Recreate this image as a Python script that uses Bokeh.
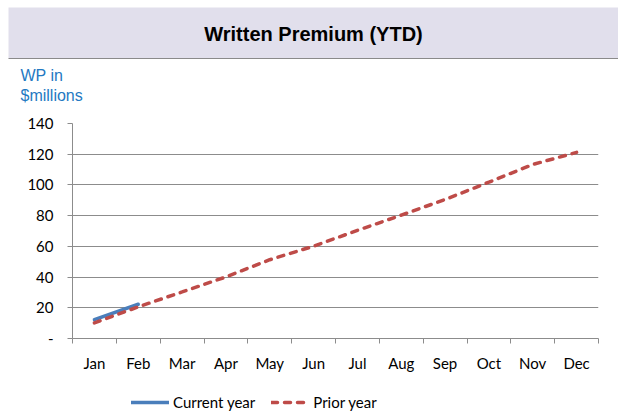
import numpy as np
from bokeh.plotting import figure
from bokeh.models import (Range1d, FixedTicker, Legend, LegendItem, BoxAnnotation)
from bokeh.layouts import column
from bokeh.embed import file_html
from bokeh.resources import INLINE
from bokeh.core.properties import value

# ---- data ----
months = ["Jan", "Feb", "Mar", "Apr", "May", "Jun", "Jul", "Aug", "Sep", "Oct", "Nov", "Dec"]
current_year = [12.3, 22.3]
prior_year = [10.2, 20.6, 30.3, 40.1, 51.3, 60.1, 70.4, 80.3, 90.5, 101.8, 113.3, 121.2]
y_ticks = [0, 20, 40, 60, 80, 100, 120, 140]
title_text = "Written Premium (YTD)"
y_label_lines = ["WP in", "$millions"]
series_names = ["Current year", "Prior year"]

W = 618
HEAD_H = 110
MAIN_H = 270
LEG_H = 36
GRID = "#8c8c8c"
FONT = "Lato"
BLUE = "#4A7EBB"
RED = "#BE4B48"
BAND = "#E1DFEC"


def bare(fig):
    fig.axis.visible = False
    fig.grid.visible = False
    return fig


# ---- header: title band + unit label (page pixel coordinates) ----
hdr = bare(figure(width=W, height=HEAD_H, output_backend="svg", toolbar_location=None,
                  x_range=Range1d(0, W), y_range=Range1d(HEAD_H, 0),
                  min_border=0, outline_line_color=None, frame_align=False))
hdr.add_layout(BoxAnnotation(left=8, right=W, top=7, bottom=58, fill_color=BAND, fill_alpha=1,
                             line_color=None, level="underlay"))
hdr.add_layout(BoxAnnotation(left=8, right=W, top=57.5, bottom=58.5, fill_color="#8a8a8a",
                             fill_alpha=1, line_color=None))
hdr.text(x=[313], y=[33], text=[title_text], text_align="center", text_baseline="middle",
         text_font=value("Liberation Sans"), text_font_style="bold", text_font_size="20px",
         text_color="#000000")
hdr.text(x=[20, 20], y=[75, 95], text=y_label_lines, text_align="left", text_baseline="middle",
         text_font=value("Liberation Sans"), text_font_size="16px", text_color="#2479C2")

# ---- main chart ----
xs_prior = [i + 0.5 for i in range(len(prior_year))]
xs_cur = [i + 0.5 for i in range(len(current_year))]

p = figure(width=W, height=MAIN_H, output_backend="svg", toolbar_location=None,
           x_range=Range1d(0, len(months)), y_range=Range1d(0, 140),
           min_border_left=72, min_border_right=20, min_border_top=13, min_border_bottom=42,
           outline_line_color=None, frame_align=False)

r_cur = p.line(xs_cur, current_year, line_color=BLUE, line_width=3.5, line_cap="round")
r_prior = p.line(xs_prior, prior_year, line_color=RED, line_width=3.5,
                 line_dash="6 7", line_cap="round")

xa = p.xaxis[0]
xa.ticker = FixedTicker(ticks=xs_prior, minor_ticks=list(range(len(months) + 1)))
xa.major_label_overrides = {x: m for x, m in zip(xs_prior, months)}
xa.major_tick_out = 0
xa.major_tick_in = 0
xa.minor_tick_out = 5
xa.minor_tick_in = 0
xa.minor_tick_line_color = GRID
xa.axis_line_color = GRID
xa.major_label_standoff = 10
xa.major_label_text_font = FONT
xa.major_label_text_font_size = "15px"
xa.major_label_text_color = "#000000"

ya = p.yaxis[0]
ya.ticker = FixedTicker(ticks=y_ticks)
ya.major_label_overrides = {0: "-"}
ya.major_tick_out = 5
ya.major_tick_in = 0
ya.minor_tick_line_color = None
ya.major_tick_line_color = GRID
ya.axis_line_color = GRID
ya.major_label_standoff = 14
ya.major_label_text_font = FONT
ya.major_label_text_font_size = "15px"
ya.major_label_text_color = "#000000"

p.xgrid.visible = False
p.ygrid.ticker = FixedTicker(ticks=y_ticks)
p.ygrid.grid_line_color = GRID
p.ygrid.grid_line_width = 1

# ---- legend strip (legend swatches use the same line styles as the series) ----
lg = bare(figure(width=W, height=LEG_H, output_backend="svg", toolbar_location=None,
                 x_range=Range1d(0, 1), y_range=Range1d(0, 1),
                 min_border=0, outline_line_color=None, frame_align=False))
nan_pt = np.array([np.nan])
l_cur = lg.line(x=nan_pt, y=nan_pt, line_color=BLUE, line_width=3.5, line_cap="round")
l_prior = lg.line(x=nan_pt, y=nan_pt, line_color=RED, line_width=3.5, line_dash="6 7",
                  line_cap="round")
legend = Legend(items=[LegendItem(label=series_names[0], renderers=[l_cur]),
                       LegendItem(label=series_names[1], renderers=[l_prior])],
                orientation="horizontal", location=(131, 5),
                glyph_width=38, glyph_height=12, label_standoff=4, spacing=16,
                label_text_font=FONT, label_text_font_size="15px", label_text_color="#000000",
                border_line_color=None, background_fill_alpha=0, padding=0, margin=0)
lg.add_layout(legend)

layout = column(hdr, p, lg, spacing=0)
open("out.html", "w").write(file_html(layout, INLINE))
